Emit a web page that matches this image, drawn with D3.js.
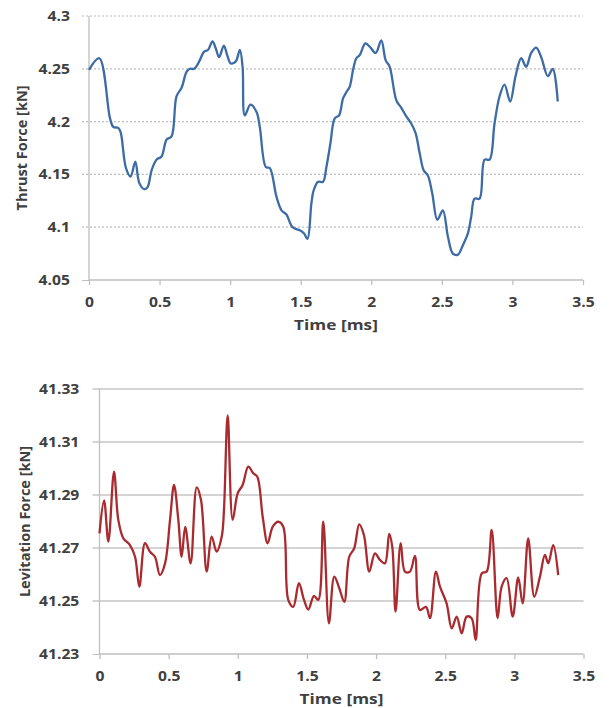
<!DOCTYPE html>
<html><head><meta charset="utf-8">
<script src="https://cdn.jsdelivr.net/npm/d3@7"></script>
<style>
html,body{margin:0;padding:0;background:#fff;}
svg text{font-family:"Open Sans",sans-serif;font-weight:bold;fill:#404040;}
</style></head>
<body><svg id="c" width="609" height="708"></svg>
<script>
// ---- Data ----
const timeTicks = [0, 0.5, 1, 1.5, 2, 2.5, 3, 3.5];
const thrustTicks = [4.05, 4.1, 4.15, 4.2, 4.25, 4.3];
const levTicks = [41.23, 41.25, 41.27, 41.29, 41.31, 41.33];

const thrustT = [0,0.073,0.149,0.172,0.207,0.224,0.262,0.295,0.328,0.356,0.391,0.415,0.444,0.479,0.514,0.55,0.585,0.62,0.656,0.691,0.715,0.745,0.781,0.814,0.844,0.875,0.899,0.922,0.955,0.979,1.005,1.04,1.069,1.088,1.104,1.144,1.187,1.21,1.253,1.281,1.328,1.364,1.399,1.442,1.493,1.524,1.548,1.576,1.592,1.623,1.658,1.682,1.71,1.741,1.772,1.8,1.824,1.847,1.871,1.894,1.918,1.958,1.989,2.031,2.071,2.102,2.13,2.178,2.213,2.248,2.284,2.314,2.343,2.371,2.401,2.432,2.468,2.507,2.543,2.578,2.614,2.649,2.684,2.708,2.732,2.767,2.803,2.838,2.873,2.909,2.944,2.984,3.022,3.062,3.097,3.133,3.168,3.204,3.251,3.286,3.321];
const thrustV = [4.249,4.26,4.203,4.195,4.194,4.19,4.156,4.148,4.162,4.142,4.136,4.138,4.154,4.164,4.167,4.183,4.186,4.224,4.232,4.247,4.25,4.25,4.257,4.266,4.268,4.276,4.269,4.261,4.272,4.263,4.255,4.257,4.268,4.252,4.206,4.216,4.209,4.195,4.157,4.156,4.129,4.116,4.112,4.1,4.097,4.094,4.089,4.123,4.135,4.143,4.143,4.157,4.179,4.203,4.206,4.222,4.228,4.233,4.249,4.26,4.263,4.274,4.271,4.265,4.277,4.258,4.252,4.22,4.213,4.205,4.198,4.189,4.17,4.154,4.149,4.132,4.107,4.116,4.091,4.075,4.074,4.083,4.094,4.11,4.127,4.127,4.164,4.164,4.198,4.224,4.235,4.219,4.243,4.26,4.252,4.265,4.27,4.261,4.243,4.25,4.219];

const levT = [0,0.033,0.064,0.105,0.136,0.172,0.22,0.257,0.288,0.329,0.365,0.401,0.437,0.474,0.51,0.539,0.57,0.594,0.62,0.659,0.703,0.734,0.775,0.811,0.847,0.884,0.9,0.927,0.963,0.999,1.035,1.076,1.112,1.141,1.18,1.216,1.252,1.293,1.329,1.365,1.401,1.442,1.479,1.51,1.551,1.582,1.618,1.659,1.698,1.734,1.77,1.806,1.842,1.878,1.912,1.951,1.992,2.028,2.064,2.095,2.117,2.141,2.178,2.209,2.245,2.281,2.317,2.361,2.39,2.433,2.462,2.51,2.547,2.583,2.619,2.655,2.691,2.72,2.764,2.8,2.836,2.879,2.908,2.944,2.988,3.028,3.06,3.1,3.144,3.185,3.221,3.245,3.281,3.317];
const levV = [41.2755,41.288,41.2724,41.2988,41.2806,41.2737,41.2711,41.2667,41.2554,41.2718,41.2686,41.2667,41.2598,41.2642,41.2806,41.2938,41.2806,41.2667,41.278,41.2642,41.2929,41.2881,41.2611,41.2743,41.2686,41.2743,41.2843,41.32,41.2806,41.2906,41.2938,41.3007,41.2982,41.2969,41.2818,41.2718,41.278,41.2799,41.278,41.2504,41.2478,41.2567,41.2504,41.2468,41.2519,41.2504,41.2799,41.2416,41.2592,41.2548,41.2497,41.2667,41.2699,41.2789,41.2749,41.2611,41.268,41.2655,41.2642,41.2753,41.2705,41.246,41.2718,41.2611,41.2611,41.267,41.2466,41.2478,41.2435,41.2611,41.2554,41.2491,41.2397,41.2441,41.2378,41.2441,41.2435,41.2353,41.2604,41.2611,41.2768,41.2435,41.2554,41.2586,41.2441,41.2589,41.2491,41.2736,41.2516,41.2592,41.2674,41.2642,41.2711,41.2598];

const svg = d3.select("#c");
const SX = 1.12;

function panel(cfg){
  const x = d3.scaleLinear().domain([0,3.5]).range([cfg.left, cfg.right]);
  const y = d3.scaleLinear().domain(cfg.ydom).range([cfg.bottom, cfg.top]);
  const g = svg.append("g");
  // gridlines
  g.append("g").selectAll("line").data(cfg.yticks.slice(1)).join("line")
    .attr("x1", cfg.left - 7).attr("x2", cfg.right)
    .attr("y1", d => y(d)).attr("y2", d => y(d))
    .attr("stroke", cfg.gridColor).attr("stroke-width", cfg.gridW)
    .attr("stroke-dasharray", cfg.dash);
  // y axis
  const ya = g.append("g").attr("transform", `translate(${cfg.left},0)`)
    .call(d3.axisLeft(y).tickValues(cfg.yticks).tickSize(7).tickPadding(cfg.ypad).tickFormat(d => d3.format(cfg.yfmt)(d)));
  ya.select(".domain").attr("stroke", "#bfbfbf").attr("stroke-width", 1.3).attr("d", `M0,${cfg.top}V${cfg.bottom}`);
  ya.selectAll(".tick line").attr("stroke", d => d === cfg.ydom[0] ? "#bfbfbf" : "none");
  ya.selectAll(".tick text").attr("font-size", 14).attr("transform", `scale(${SX},1)`).attr("fill", "#404040");
  // x axis
  const xa = g.append("g").attr("transform", `translate(0,${cfg.bottom})`)
    .call(d3.axisBottom(x).tickValues(timeTicks).tickSize(5).tickPadding(12).tickFormat(d => d3.format("")(d)));
  xa.select(".domain").attr("stroke", "#bfbfbf").attr("stroke-width", 1.3).attr("d", `M${cfg.left},0H${cfg.right}`);
  xa.selectAll(".tick line").attr("stroke", "#bfbfbf").attr("stroke-width", 1.3);
  xa.selectAll(".tick text").attr("font-size", 14).attr("fill", "#404040")
    .attr("transform", `scale(${SX},1)`);
  // line
  const data = cfg.t.map((t,i) => [t, cfg.v[i]]);
  g.append("path").datum(data)
    .attr("fill", "none").attr("stroke", cfg.color).attr("stroke-width", 2.3)
    .attr("stroke-linejoin", "round")
    .attr("d", d3.line().x(d => x(d[0])).y(d => y(d[1])).curve(d3.curveCatmullRom.alpha(0.5)));
  // titles
  const cx = (cfg.left + cfg.right)/2;
  g.append("text").attr("transform", `translate(${cx},${cfg.bottom + 50}) scale(1.15,1)`)
    .attr("text-anchor", "middle").attr("font-size", 15).text("Time [ms]");
  g.append("text").attr("transform", `translate(${cfg.ytx},${(cfg.top+cfg.bottom)/2}) rotate(-90)`)
    .attr("text-anchor", "middle").attr("dy", "0.35em").attr("font-size", 14.5).text(cfg.ytitle);
}

panel({left:89, right:583, top:16, bottom:280, ydom:[4.05,4.3], yticks:thrustTicks, yfmt:"",
  gridColor:"#bdbdbd", gridW:1.2, dash:"2,2", color:"#3c6ba5", t:thrustT, v:thrustV,
  ytitle:"Thrust Force [kN]", ytx:22, ypad:10});
panel({left:99.5, right:583.5, top:389, bottom:654, ydom:[41.23,41.33], yticks:levTicks, yfmt:".2f",
  gridColor:"#c6c6c6", gridW:1.6, dash:null, color:"#aa2b2f", t:levT, v:levV,
  ytitle:"Levitation Force [kN]", ytx:25, ypad:11});
</script>
</body></html>
